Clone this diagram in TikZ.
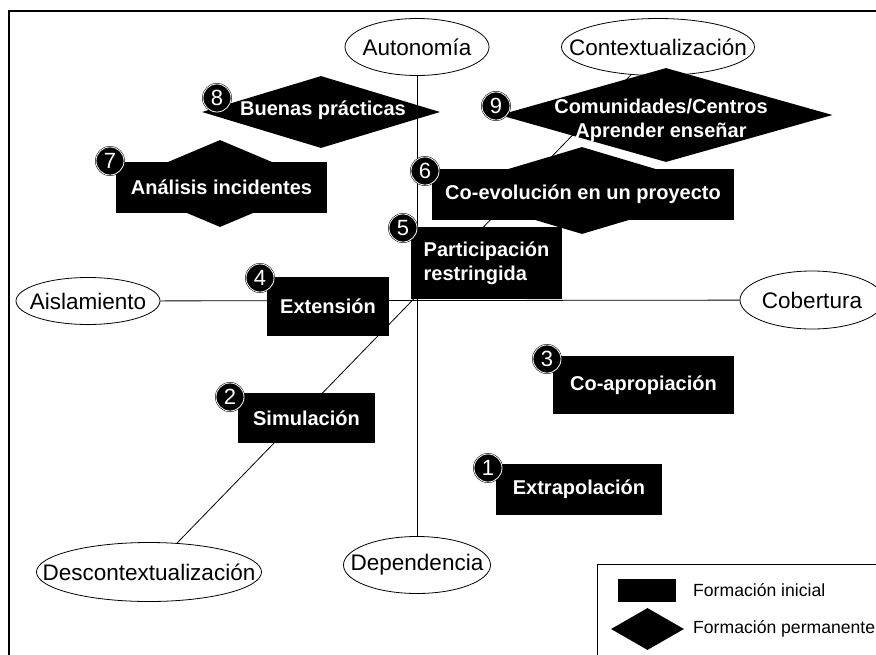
\documentclass[tikz,border=0pt]{standalone}
\usepackage{fontspec}
\setmainfont{Liberation Sans}
\usetikzlibrary{shapes.geometric}
\begin{document}
\begin{tikzpicture}[x=1pt, y=-1pt]
\tikzstyle{pole}=[ellipse, draw, line width=0.8pt, inner sep=0pt,
                  minimum width=144pt, minimum height=57pt]
\tikzstyle{ptxt}=[inner sep=0pt, font=\fontsize{22.5}{27}\selectfont]
\tikzstyle{ini}=[rectangle, fill=black, text=white, inner sep=0pt,
                 font=\fontsize{20}{24}\selectfont\bfseries]
\tikzstyle{perm}=[diamond, fill=black, inner sep=0pt]
\tikzstyle{lbl}=[text=white, inner sep=0pt, font=\fontsize{20}{24}\selectfont\bfseries]
\tikzstyle{num}=[circle, fill=black, draw=black, double=white, double distance=0.8pt,
                 line width=0.5pt, text=white, inner sep=0pt, minimum size=28pt,
                 font=\fontsize{22}{22}\selectfont]
\tikzstyle{leg}=[anchor=west, inner sep=0pt, font=\fontsize{17.6}{20}\selectfont]
\useasboundingbox (0,0) rectangle (876,654);
\clip (0,0) rectangle (876,654);
\draw[line width=1.3pt] (9,11) rectangle (890,670);
\draw[line width=1pt] (597,564) rectangle (890,670);
\node[pole] (Aut) at (417,47) {};
\node[pole, minimum width=193pt] (Con) at (658,47) {};
\node[pole, minimum height=47pt] (Ais) at (88,301) {};
\node[pole, minimum height=58pt] (Cob) at (812,300) {};
\node[pole, minimum width=147pt] (Dep) at (417,565) {};
\node[pole, minimum width=225pt, minimum height=59pt] (Des) at (149,572) {};
\node[ptxt] at (Aut) {Autonomía};
\node[ptxt] at (Con) {Contextualización};
\node[ptxt] at (Ais) {Aislamiento};
\node[ptxt] at (Cob) {Cobertura};
\node[ptxt] at (Dep) {Dependencia};
\node[ptxt] at (Des) {Descontextualización};
\draw[line width=0.8pt] (Aut) -- (Dep);
\draw[line width=0.8pt] (Ais) -- (Cob);
\draw[line width=0.8pt] (Des) -- (Con);
\node[perm, minimum width=238pt, minimum height=72pt] (D8) at (321,112) {};
\node[lbl] (T8) at (323,110) {Buenas prácticas};
\node[perm, minimum width=333pt, minimum height=94pt] (D9) at (666,115) {};
\node[lbl, align=center] (T9) at (661,120) {Comunidades/Centros\\Aprender enseñar};
\node[perm, minimum width=206pt, minimum height=87pt] (D7) at (220,183.5) {};
\node[ini, minimum width=211pt, minimum height=51pt] (I7) at (221.5,187.5) {Análisis incidentes};
\node[perm, minimum width=292pt, minimum height=87pt] (D6) at (582,190.5) {};
\node[ini, minimum width=302pt, minimum height=51pt] (I6) at (583,194.5) {Co-evolución en un proyecto};
\node[ini, minimum width=151pt, minimum height=72pt, align=left] (I5) at (486.5,263) {Participación\\restringida};
\node[ini, minimum width=122pt, minimum height=59pt] (I4) at (328,306.5) {Extensión};
\node[ini, minimum width=181pt, minimum height=58pt] (I3) at (643.5,385) {Co-apropiación};
\node[ini, minimum width=137pt, minimum height=50pt] (I2) at (306.5,418) {Simulación};
\node[ini, minimum width=166pt, minimum height=51pt] (I1) at (579,489.5) {Extrapolación};
\foreach \n/\x/\y in {1/488/468, 2/230/397, 3/547/359, 4/260/278, 5/403/228,
                      6/425/171, 7/110/161, 8/217/98, 9/496/106}
  \node[num] (N\n) at (\x,\y) {\n};
\node[ini, minimum width=58pt, minimum height=23pt] (LI) at (647,590.5) {};
\node[perm, minimum width=73pt, minimum height=42pt] (LP) at (647.5,629) {};
\node[leg] (TI) at (693,590) {Formación inicial};
\node[leg] (TP) at (693,629) {Formación permanente};
\end{tikzpicture}
\end{document}
